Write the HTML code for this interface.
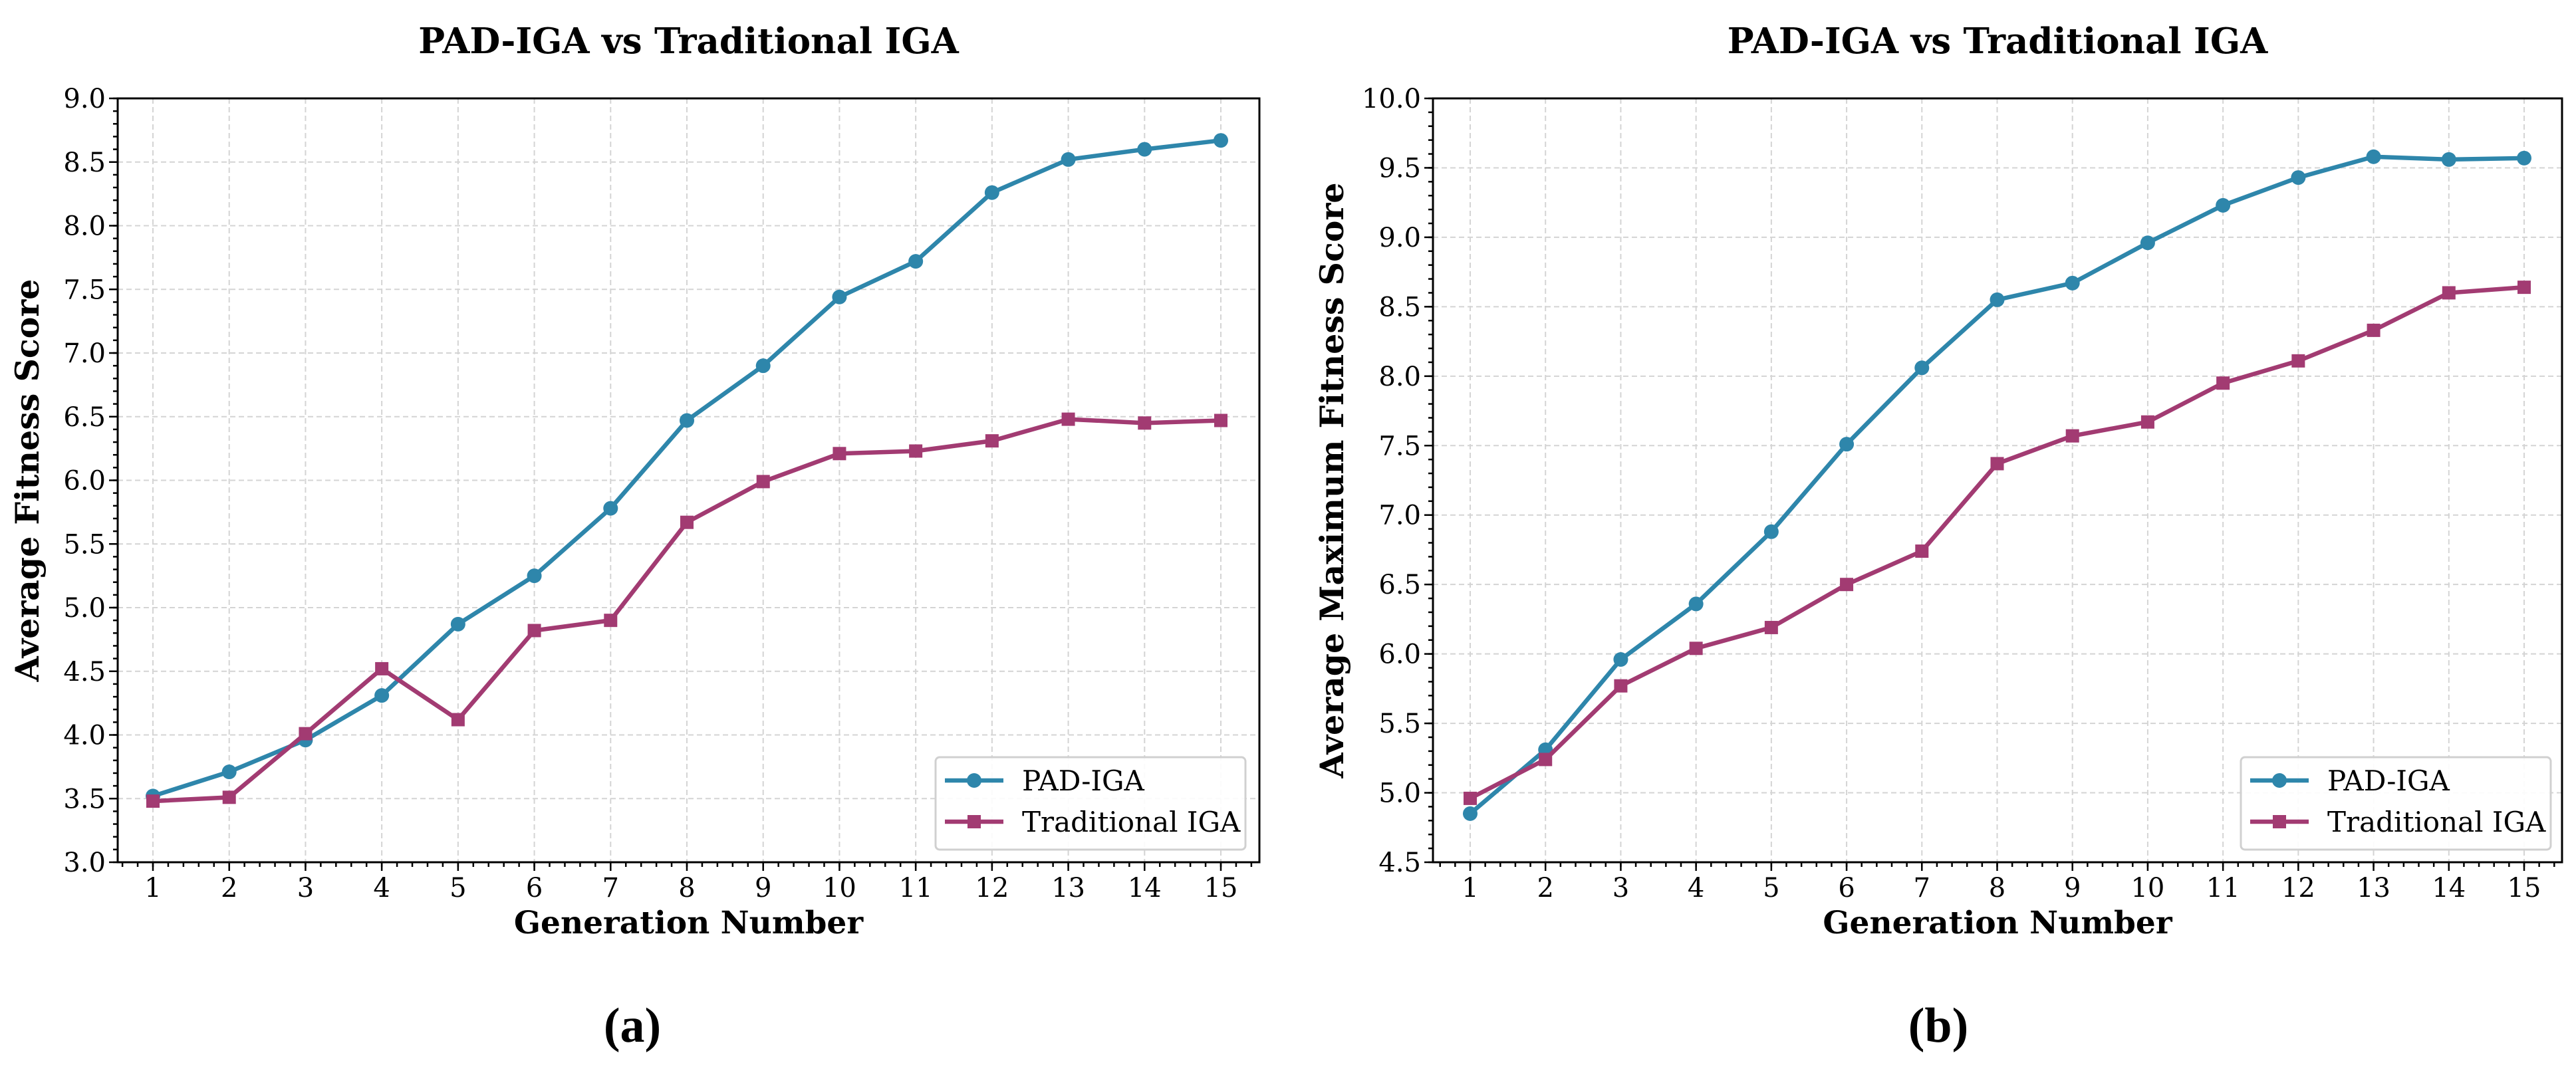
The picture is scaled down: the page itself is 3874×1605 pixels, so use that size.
<!DOCTYPE html>
<html><head><meta charset="utf-8"><style>
html,body{margin:0;padding:0;background:#fff;}
svg{display:block;font-family:"DejaVu Serif","Liberation Serif",serif;}
</style></head><body>
<svg id="chart" width="3874" height="1605" viewBox="0 0 3874 1605" xmlns="http://www.w3.org/2000/svg"></svg>
<script>
const generations = [1,2,3,4,5,6,7,8,9,10,11,12,13,14,15];
const padAvg = [3.52,3.71,3.96,4.31,4.87,5.25,5.78,6.47,6.90,7.44,7.72,8.26,8.52,8.60,8.67];
const tradAvg = [3.48,3.51,4.01,4.52,4.12,4.82,4.90,5.67,5.99,6.21,6.23,6.31,6.48,6.45,6.47];
const padMax = [4.85,5.31,5.96,6.36,6.88,7.51,8.06,8.55,8.67,8.96,9.23,9.43,9.58,9.56,9.57];
const tradMax = [4.96,5.24,5.77,6.04,6.19,6.50,6.74,7.37,7.57,7.67,7.95,8.11,8.33,8.60,8.64];
const yTicksA = ["3.0","3.5","4.0","4.5","5.0","5.5","6.0","6.5","7.0","7.5","8.0","8.5","9.0"];
const yTicksB = ["4.5","5.0","5.5","6.0","6.5","7.0","7.5","8.0","8.5","9.0","9.5","10.0"];
const seriesNames = ["PAD-IGA","Traditional IGA"];

const NS="http://www.w3.org/2000/svg";
const svg=document.getElementById('chart');
function mk(tag,attrs,parent){const e=document.createElementNS(NS,tag);for(const k in attrs)e.setAttribute(k,attrs[k]);(parent||svg).appendChild(e);return e;}

function panel(cfg){
  const g=mk('g',{});
  
  
  const L=cfg.left,R=cfg.right,T=148,B=1297;
  const ymin=parseFloat(cfg.yTicks[0]),ymax=parseFloat(cfg.yTicks[cfg.yTicks.length-1]);
  const xs=v=>cfg.x1+(v-1)*(cfg.x15-cfg.x1)/14;
  const ys=v=>B-(v-ymin)/(ymax-ymin)*(B-T);
  const grid=mk('g',{stroke:'#d4d4d4','stroke-width':2,'stroke-dasharray':'8,5'},g);
  
  
  generations.forEach(v=>mk('line',{x1:xs(v),x2:xs(v),y1:T,y2:B},grid));
  cfg.yTicks.forEach(t=>mk('line',{x1:L,x2:R,y1:ys(parseFloat(t)),y2:ys(parseFloat(t))},grid));
  const tk=mk('g',{stroke:'#000','stroke-width':2.5},g);
  generations.forEach(v=>{
    mk('line',{x1:xs(v),x2:xs(v),y1:B,y2:B+13},tk);
    const tl=mk('text',{x:xs(v),y:B+52,'text-anchor':'middle','font-size':40,fill:'#000',stroke:'none'},g);
    tl.textContent=v;
    
    
  });
  const dx=(cfg.x15-cfg.x1)/14/5;
  for(let x=cfg.x1-dx*2;x<=R;x+=dx){ if(x<L) continue; mk('line',{x1:x,x2:x,y1:B,y2:B+7},tk);}
  cfg.yTicks.forEach(t=>{
    const y=ys(parseFloat(t));
    mk('line',{x1:L,x2:L-13,y1:y,y2:y},tk);
    const tl=mk('text',{x:L-18,y:y+14,'text-anchor':'end','font-size':40,fill:'#000',stroke:'none'},g);
    tl.textContent=t;
    
    
  });
  for(let v=ymin;v<=ymax+1e-6;v+=0.1){mk('line',{x1:L,x2:L-7,y1:ys(v),y2:ys(v)},tk);}
  const fr=mk('rect',{x:L,y:T,width:R-L,height:B-T,fill:'none',stroke:'#000','stroke-width':3},g);
  
  
  [[cfg.s1,'#2E86AB','circle'],[cfg.s2,'#A23B72','square']].forEach(([data,col,shape],i)=>{
    const sg=mk('g',{},g);
    
    
    const pts=data.map((v,j)=>xs(generations[j])+','+ys(v)).join(' ');
    mk('polyline',{points:pts,fill:'none',stroke:col,'stroke-width':6.5,'stroke-linejoin':'round'},sg);
    data.forEach((v,j)=>{
      let m;
      if(shape==='circle') m=mk('circle',{cx:xs(generations[j]),cy:ys(v),r:11,fill:col},sg);
      else m=mk('rect',{x:xs(generations[j])-10,y:ys(v)-10,width:20,height:20,fill:col},sg);
      
      
    });
  });
  const lg=mk('g',{},g);
  
  
  const lx=cfg.legX,ly=1139;
  mk('rect',{x:lx,y:ly,width:466,height:139,rx:6,fill:'#fff','fill-opacity':0.9,stroke:'#d0d0d0','stroke-width':3},lg);
  [['#2E86AB','circle'],['#A23B72','square']].forEach(([col,shape],i)=>{
    const cy=ly+35+i*62;
    const e=mk('g',{},lg);
    
    
    mk('line',{x1:lx+14,x2:lx+102,y1:cy,y2:cy,stroke:col,'stroke-width':6.5},e);
    if(shape==='circle') mk('circle',{cx:lx+58,cy:cy,r:11,fill:col},e);
    else mk('rect',{x:lx+48,y:cy-10,width:20,height:20,fill:col},e);
    const t=mk('text',{x:lx+130,y:cy+15,'font-size':42,fill:'#000'},e);
    t.textContent=seriesNames[i];
  });
  const ti=mk('text',{x:(L+R)/2,y:80,'text-anchor':'middle','font-size':53,'font-weight':'bold'},g);
  ti.textContent='PAD-IGA vs Traditional IGA';
  
  
  const xl=mk('text',{x:(L+R)/2,y:1404,'text-anchor':'middle','font-size':47,'font-weight':'bold'},g);
  xl.textContent='Generation Number';
  
  
  const yl=mk('text',{x:0,y:0,'text-anchor':'middle','font-size':49,'font-weight':'bold',transform:`translate(${cfg.yLabelX},${(T+B)/2}) rotate(-90)`},g);
  yl.textContent=cfg.yLabel;
  
  
  const cap=mk('text',{x:cfg.capX,y:1567,'text-anchor':'middle','font-size':74,'font-weight':'bold','font-family':'"Liberation Serif",serif'},g);
  cap.textContent=cfg.cap;
  
  
}
panel({name:'panel-a',left:177,right:1894,x1:230,x15:1836,yTicks:yTicksA,s1:padAvg,s2:tradAvg,legX:1407,yLabel:'Average Fitness Score',yLabelX:58,cap:'(a)',capX:951});
panel({name:'panel-b',left:2155,right:3853,x1:2211,x15:3796,yTicks:yTicksB,s1:padMax,s2:tradMax,legX:3370,yLabel:'Average Maximum Fitness Score',yLabelX:2020,cap:'(b)',capX:2915});
</script>
</body></html>
